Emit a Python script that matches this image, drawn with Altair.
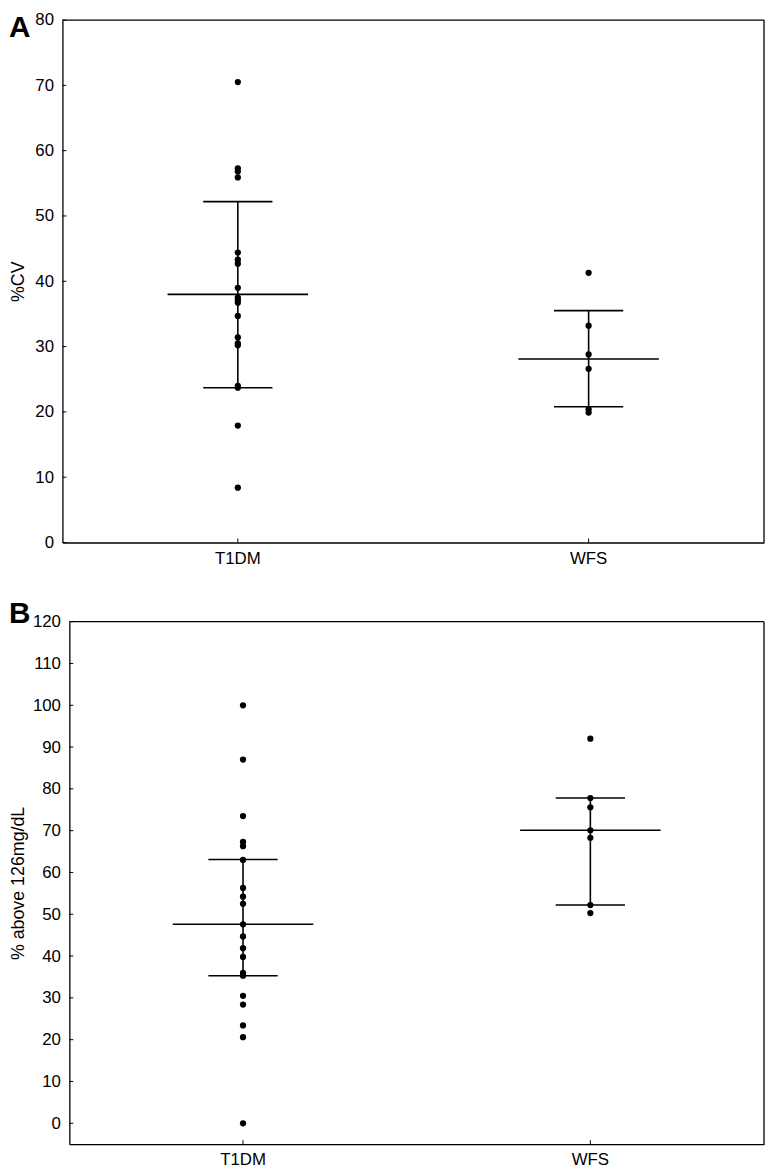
import altair as alt
import pandas as pd

# ---------------- data ----------------
groups = ["T1DM", "WFS"]
panel_letters = ["A", "B"]

# Panel A: %CV
cv_t1dm = [70.5, 57.3, 56.8, 55.9, 44.4, 43.3, 42.7, 39.0, 37.5, 37.1, 36.7,
           34.7, 31.4, 30.5, 30.2, 24.0, 23.7, 17.9, 8.4]
cv_wfs = [41.3, 33.2, 28.8, 26.6, 20.4, 19.9]
cv_mean = [38.0, 28.1]
cv_sd_low = [23.7, 20.8]
cv_sd_high = [52.2, 35.5]
cv_ticks = [0, 10, 20, 30, 40, 50, 60, 70, 80]
cv_domain = [0, 80]

# Panel B: % above 126 mg/dL
hg_t1dm = [100.0, 87.0, 73.5, 67.3, 66.3, 63.0, 56.3, 54.2, 52.5, 47.6, 44.7,
           41.9, 39.8, 36.0, 35.3, 30.5, 28.4, 23.4, 20.6, 0.0]
hg_wfs = [92.0, 77.8, 75.6, 70.1, 68.3, 52.2, 50.3]
hg_mean = [47.6, 70.1]
hg_sd_low = [35.3, 52.2]
hg_sd_high = [63.1, 77.8]
hg_ticks = [0, 10, 20, 30, 40, 50, 60, 70, 80, 90, 100, 110, 120]
hg_domain = [-5, 120]

FONT = "Liberation Sans"


def panel(letter, t1dm, wfs, mean, low, high, ticks, ydom, ytitle,
          W, H, inset, letter_y):
    pts = pd.DataFrame({"group": ["T1DM"] * len(t1dm) + ["WFS"] * len(wfs),
                        "value": t1dm + wfs})
    stats = pd.DataFrame({"group": groups, "mean": mean, "low": low, "high": high})
    tk = pd.DataFrame({"tick": ticks})
    one = pd.DataFrame({"label": [letter]})

    xscale = alt.Scale(domain=groups, range=[inset, W], paddingInner=0, paddingOuter=0)
    yscale = alt.Scale(domain=ydom, nice=False, zero=False)
    xaxis = alt.Axis(title=None, labelAngle=0, ticks=False, grid=False, domain=True,
                     domainColor="black", domainWidth=1.3, labelFont=FONT,
                     labelFontSize=17, labelColor="black", labelPadding=8)
    yaxis = alt.Axis(title=ytitle, values=ticks, grid=False, ticks=False, domain=True,
                     domainColor="black", domainWidth=1.3, labelFont=FONT,
                     labelFontSize=17, labelColor="black", labelPadding=9,
                     labelFlush=False, offset=-inset,
                     titleFont=FONT, titleFontSize=18, titleFontWeight="normal",
                     titleColor="black", titleX=-35 - inset, titleY=H / 2,
                     titleAngle=270, titleBaseline="bottom", titleAlign="center")

    def X():
        return alt.X("group:N", scale=xscale, axis=xaxis)

    def Y(field):
        return alt.Y(field, scale=yscale, axis=yaxis)

    points = alt.Chart(pts).mark_circle(size=40, color="black", opacity=1).encode(
        x=X(), y=Y("value:Q"))
    sd = alt.Chart(stats).mark_rule(color="black", strokeWidth=1.6).encode(
        x=X(), y=Y("low:Q"), y2="high:Q")
    cap_low = alt.Chart(stats).mark_tick(color="black", thickness=1.6, size=70, opacity=1).encode(
        x=X(), y=Y("low:Q"))
    cap_high = alt.Chart(stats).mark_tick(color="black", thickness=1.6, size=70, opacity=1).encode(
        x=X(), y=Y("high:Q"))
    mean_line = alt.Chart(stats).mark_tick(color="black", thickness=1.6, size=142, opacity=1).encode(
        x=X(), y=Y("mean:Q"))

    ytick_in = alt.Chart(tk).mark_rule(color="black", strokeWidth=1).encode(
        y=Y("tick:Q"), x=alt.value(inset), x2=alt.value(inset + 4))
    xtick_in = alt.Chart(stats).mark_rule(color="black", strokeWidth=1).encode(
        x=X(), y=alt.value(H), y2=alt.value(H - 4))

    frame_top = alt.Chart(one).mark_rule(color="black", strokeWidth=1.3).encode(
        x=alt.value(inset), x2=alt.value(W), y=alt.value(0))
    frame_right = alt.Chart(one).mark_rule(color="black", strokeWidth=1.3).encode(
        x=alt.value(W), y=alt.value(0), y2=alt.value(H))

    label = alt.Chart(one).mark_text(font=FONT, fontSize=30, fontWeight="bold",
                                     align="left", baseline="top", color="black").encode(
        text="label:N", x=alt.value(-54), y=alt.value(letter_y))

    return alt.layer(points, frame_top, frame_right, ytick_in, xtick_in, sd,
                     cap_low, cap_high, mean_line, label).properties(
        width=W, height=H, view=alt.ViewBackground(stroke="transparent"))


panel_a = panel(panel_letters[0], cv_t1dm, cv_wfs, cv_mean, cv_sd_low, cv_sd_high,
                cv_ticks, cv_domain, "%CV", 709, 528, 0, -7)
panel_b = panel(panel_letters[1], hg_t1dm, hg_wfs, hg_mean, hg_sd_low, hg_sd_high,
                hg_ticks, hg_domain, "% above 126mg/dL", 709, 528, 7, -23)


def build(top_pad):
    return alt.vconcat(panel_a, panel_b, spacing=31).properties(
        padding={"left": 0, "top": top_pad, "right": 0, "bottom": 0},
        background="white",
    ).configure_view(stroke="transparent")


try:
    chart = build(-4)
    chart.to_dict()
except Exception:
    chart = build(0)

chart.save("out.html", embed_options={"renderer": "svg", "actions": False})
